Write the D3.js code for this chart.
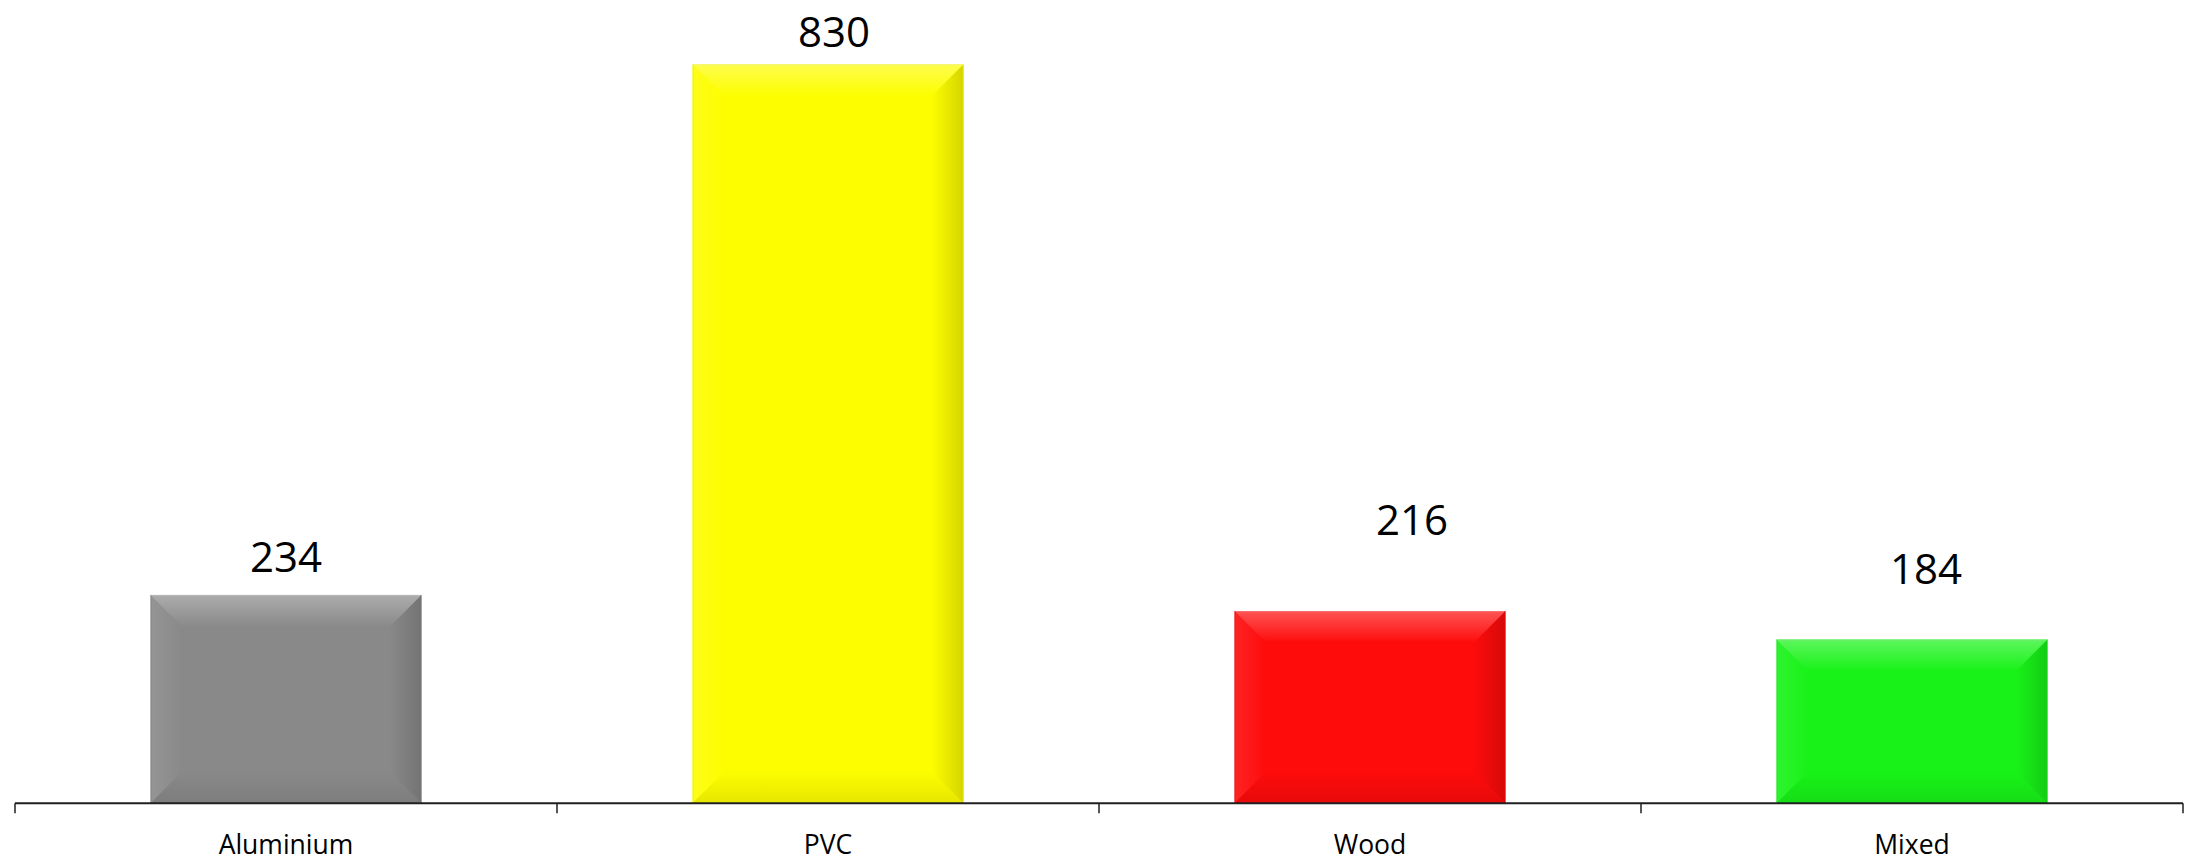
<!DOCTYPE html>
<html>
<head>
<meta charset="utf-8">
<script src="https://cdn.jsdelivr.net/npm/d3@7"></script>
<style>
  html, body { margin: 0; padding: 0; background: #ffffff; }
  svg { display: block; }
</style>
</head>
<body>
<svg id="chart" width="2192" height="862"></svg>
<script>
// Window frame materials and their counts
const categories = ["Aluminium", "PVC", "Wood", "Mixed"];
const values = [234, 830, 216, 184];
const barColors = ["#898989", "#fdfd00", "#fe0b0b", "#18f218"];
const yDomainMax = 900;

// Hand-placed data labels: shift from the default spot above each bar
const labelShiftX = [0, 6, 42, 14];
const labelShiftY = [0, 6, -53, -32];

const axisY = 803.3;
const svg = d3.select("#chart");
const defs = svg.append("defs");

const x = d3.scaleBand()
  .domain(categories)
  .range([15, 2183])
  .paddingInner(0.5)
  .paddingOuter(0.25);

const y = d3.scaleLinear()
  .domain([0, yDomainMax])
  .range([axisY, 2]);

// Soft bevel gradients (white highlight / black shade fading inward)
function grad(id, x1, y1, x2, y2, color, op) {
  const g = defs.append("linearGradient").attr("id", id)
    .attr("x1", x1).attr("y1", y1).attr("x2", x2).attr("y2", y2);
  g.append("stop").attr("offset", "0%").attr("stop-color", color).attr("stop-opacity", op);
  g.append("stop").attr("offset", "100%").attr("stop-color", color).attr("stop-opacity", 0);
}
grad("bevTop", 0, 0, 0, 1, "#ffffff", 0.30);
grad("bevLeft", 0, 0, 1, 0, "#ffffff", 0.10);
grad("bevRight", 1, 0, 0, 0, "#000000", 0.16);
grad("bevBottom", 0, 1, 0, 0, "#000000", 0.09);

const bars = svg.append("g").selectAll("g")
  .data(categories.map((c, i) => ({ c, v: values[i], col: barColors[i], i })))
  .join("g");

const bev = 32;
bars.each(function(d) {
  const g = d3.select(this);
  const x0 = x(d.c), x1 = x0 + x.bandwidth();
  const y0 = y(d.v), y1 = y(0);
  const b = Math.min(bev, (y1 - y0) / 2, (x1 - x0) / 2);
  g.append("rect")
    .attr("x", x0).attr("y", y0)
    .attr("width", x1 - x0).attr("height", y1 - y0)
    .attr("fill", d.col);
  const poly = (pts, fill) => g.append("polygon")
    .attr("points", pts.map(p => p.join(",")).join(" "))
    .attr("fill", fill);
  poly([[x0, y0], [x1, y0], [x1 - b, y0 + b], [x0 + b, y0 + b]], "url(#bevTop)");
  poly([[x0, y0], [x0 + b, y0 + b], [x0 + b, y1 - b], [x0, y1]], "url(#bevLeft)");
  poly([[x1, y0], [x1, y1], [x1 - b, y1 - b], [x1 - b, y0 + b]], "url(#bevRight)");
  poly([[x0, y1], [x0 + b, y1 - b], [x1 - b, y1 - b], [x1, y1]], "url(#bevBottom)");
  g.append("rect")
    .attr("x", x0 + 0.5).attr("y", y0 + 0.5)
    .attr("width", x1 - x0 - 1).attr("height", y1 - y0 - 1)
    .attr("fill", "none")
    .attr("stroke", d3.color(d.col).darker(0.25))
    .attr("stroke-opacity", 0.55)
    .attr("stroke-width", 1);
  g.append("line")
    .attr("x1", x0 + 1).attr("x2", x1 - 1)
    .attr("y1", y0 + 0.5).attr("y2", y0 + 0.5)
    .attr("stroke", "#ffffff").attr("stroke-opacity", 0.35);
});

// Value labels
bars.append("text")
  .attr("x", d => x(d.c) + x.bandwidth() / 2 + labelShiftX[d.i])
  .attr("y", d => y(d.v) - 23 + labelShiftY[d.i])
  .attr("text-anchor", "middle")
  .attr("font-family", "'Open Sans', sans-serif")
  .attr("font-size", 42)
  .attr("fill", "#000000")
  .text(d => d.v);

// Category axis: baseline with ticks between categories
const axis = svg.append("g");
axis.append("line")
  .attr("x1", x.range()[0]).attr("x2", x.range()[1])
  .attr("y1", axisY).attr("y2", axisY)
  .attr("stroke", "#1f1f1f").attr("stroke-width", 2);

const span = x.range()[1] - x.range()[0];
axis.selectAll("line.tick")
  .data(d3.range(categories.length + 1))
  .join("line")
  .attr("class", "tick")
  .attr("x1", i => x.range()[0] + i * span / categories.length)
  .attr("x2", i => x.range()[0] + i * span / categories.length)
  .attr("y1", axisY).attr("y2", axisY + 10)
  .attr("stroke", "#1f1f1f").attr("stroke-width", 1.5);

axis.selectAll("text")
  .data(categories)
  .join("text")
  .attr("x", d => x(d) + x.bandwidth() / 2)
  .attr("y", 854)
  .attr("text-anchor", "middle")
  .attr("font-family", "'Open Sans', sans-serif")
  .attr("font-size", 26.5)
  .attr("fill", "#000000")
  .text(d => d);
</script>
</body>
</html>
